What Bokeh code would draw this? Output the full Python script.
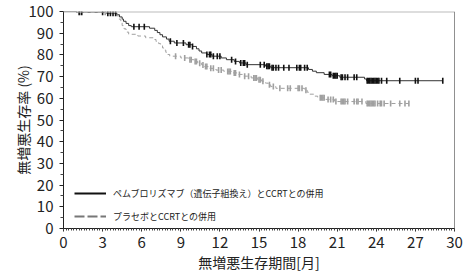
import numpy as np
from bokeh.plotting import figure
from bokeh.models import FixedTicker, Legend, LegendItem, Span, Range1d
from bokeh.embed import file_html
from bokeh.resources import INLINE

# ---- data ----
pem_event_t = [0, 1.0, 3.3, 4.1, 4.3, 4.5, 4.6, 4.8, 5.0, 5.2, 6.6, 7.0, 7.2, 7.4, 7.6,
               7.9, 8.1, 8.5, 9.4, 9.9, 10.2, 10.4, 10.6, 11.0, 11.4, 12.1, 12.5, 13.1,
               13.5, 14.0, 15.5, 15.9, 18.8, 19.1, 19.4, 20.0, 20.6, 21.2, 23.1, 23.25]
pem_event_s = [100, 99.6, 99.2, 98.5, 97.5, 96.5, 95.5, 94.5, 93.5, 93.0, 92.3, 91.3, 90.3,
               89.3, 88.3, 87.3, 86.3, 85.5, 84.7, 83.9, 82.8, 81.8, 80.9, 80.2, 79.4, 78.6,
               77.8, 77.0, 76.3, 75.5, 74.8, 74.1, 73.3, 72.5, 71.8, 71.0, 70.4, 69.7, 68.9, 68.1]
pem_censor_t = [1.2, 1.4, 3.0, 3.4, 3.6, 3.8, 4.0, 5.4, 5.8, 6.2, 8.2, 8.7, 9.2, 9.6, 9.7,
                9.9, 11.0, 11.2, 11.3, 11.5, 11.8, 12.0, 12.9, 13.2, 13.6, 13.8, 13.9, 14.1,
                15.1, 15.4, 15.6, 15.7, 15.8, 16.0, 16.1, 16.3, 16.5, 16.9, 17.3, 17.9, 18.1,
                18.2, 18.5, 18.7, 20.4, 20.5, 20.7, 20.8, 20.9, 21.0, 21.3, 21.4, 21.6, 21.8,
                22.3, 22.5, 23.3, 23.4, 23.5, 23.6, 23.7, 23.8, 23.9, 24.0, 24.1, 24.2, 24.4,
                24.8, 25.8, 27.0, 27.2, 29.1]

pla_event_t = [0, 1.0, 3.4, 4.1, 4.25, 4.4, 4.5, 4.65, 4.8, 5.0, 5.7, 6.3, 6.9, 7.1, 7.3,
               7.45, 7.6, 7.7, 7.85, 8.0, 8.15, 9.0, 9.6, 10.0, 10.3, 10.6, 10.8, 11.2, 11.7,
               12.3, 13.0, 13.4, 13.8, 14.4, 14.9, 15.2, 15.5, 15.7, 15.9, 16.3, 18.5, 18.7,
               18.9, 19.2, 19.5, 20.1, 20.8, 23.2]
pla_event_s = [100, 99.6, 99.0, 98.0, 96.5, 95.0, 93.5, 92.0, 90.5, 89.5, 88.7, 87.9, 87.1,
               86.2, 85.2, 84.2, 83.2, 82.2, 81.2, 80.2, 79.4, 78.6, 77.8, 77.0, 76.2, 75.4,
               74.6, 73.8, 73.0, 72.4, 71.7, 71.0, 70.2, 69.4, 68.6, 67.9, 67.0, 66.2, 65.4,
               64.6, 63.7, 62.8, 61.9, 61.0, 60.2, 59.5, 58.5, 57.6]
pla_censor_t = [1.3, 3.2, 8.6, 9.3, 9.7, 9.8, 10.1, 10.2, 10.45, 10.7, 10.9, 11.0, 11.3,
                11.5, 11.9, 12.1, 12.6, 12.7, 12.8, 13.1, 13.2, 13.5, 13.9, 14.2, 14.6, 14.7,
                14.8, 15.0, 15.1, 15.3, 15.8, 16.1, 16.6, 17.2, 17.4, 18.0, 18.1, 18.3, 18.6,
                19.7, 19.8, 19.9, 20.0, 20.3, 20.5, 20.7, 20.9, 21.3, 21.4, 21.5, 21.6, 21.8,
                22.3, 22.5, 22.6, 22.9, 23.3, 23.4, 23.5, 23.6, 23.7, 23.8, 23.9, 24.1, 24.3,
                24.4, 24.6, 25.1, 25.8, 26.2, 26.5]

x_ticks = list(range(0, 31, 3))
y_ticks = list(range(0, 101, 10))
label_pem = "ペムブロリズマブ（遺伝子組換え）とCCRTとの併用"
label_pla = "プラセボとCCRTとの併用"
x_title = "無増悪生存期間[月]"
y_title = "無増悪生存率 (%)"

FONT = "Noto Sans CJK JP"


def censor_y(ev_t, ev_s, ct):
    idx = np.searchsorted(np.array(ev_t), np.array(ct), side="right") - 1
    return [ev_s[i] for i in idx]


p = figure(width=470, height=274, output_backend="svg", toolbar_location=None,
           x_range=Range1d(0, 30), y_range=Range1d(0, 100),
           min_border_left=63, min_border_right=16, min_border_top=11, min_border_bottom=46)
p.outline_line_color = None
p.xgrid.visible = False
p.ygrid.visible = False
p.background_fill_color = "white"
p.border_fill_color = "white"

# curves
pem_end = pem_censor_t[-1]
pla_end = pla_censor_t[-1]
p.step(x=pem_event_t + [pem_end], y=pem_event_s + [pem_event_s[-1]], mode="after",
       line_color="#333333", line_width=1)
p.step(x=pla_event_t + [pla_end], y=pla_event_s + [pla_event_s[-1]], mode="after",
       line_color="#a0a0a0", line_width=1, line_dash="4 3")
p.scatter(x=pla_censor_t, y=censor_y(pla_event_t, pla_event_s, pla_censor_t), marker="dash",
          angle=np.pi / 2, size=6, line_color="#a0a0a0", line_width=1.6)
p.scatter(x=pem_censor_t, y=censor_y(pem_event_t, pem_event_s, pem_censor_t), marker="dash",
          angle=np.pi / 2, size=6, line_color="#111111", line_width=1.6)

# frame borders
p.add_layout(Span(location=100, dimension="width", line_color="#bbbbbb", line_width=2))
p.add_layout(Span(location=30, dimension="height", line_color="#222222", line_width=1))

# legend (legend-only renderers, nothing drawn in the plot)
nan = np.array([np.nan])
r1 = p.line(x=nan, y=nan, line_color="#111111", line_width=1.8)
r2 = p.line(x=nan, y=nan, line_color="#777777", line_width=2, line_dash="10 3")
legend = Legend(items=[LegendItem(label=label_pem, renderers=[r1]),
                       LegendItem(label=label_pla, renderers=[r2])],
                location=(11, 2), orientation="vertical",
                glyph_width=32, glyph_height=20, label_height=20, spacing=3,
                label_standoff=7, padding=0, margin=0,
                border_line_color=None, background_fill_alpha=0,
                label_text_font=FONT, label_text_font_size="9px", label_text_color="#222222")
p.add_layout(legend, "center")

# axes
xa = p.xaxis[0]
xa.ticker = FixedTicker(ticks=x_ticks, minor_ticks=list(np.round(np.arange(0, 30.001, 0.2), 2)))
xa.axis_label = x_title
ya = p.yaxis[0]
ya.ticker = FixedTicker(ticks=y_ticks, minor_ticks=list(range(5, 100, 10)))
ya.axis_label = y_title
for ax in (xa, ya):
    ax.axis_line_color = "#222222"
    ax.major_tick_line_color = "#222222"
    ax.minor_tick_line_color = "#444444"
    ax.major_tick_in = 0
    ax.minor_tick_in = 0
    ax.major_label_text_font = FONT
    ax.major_label_text_font_size = "15px"
    ax.major_label_text_color = "#222222"
    ax.axis_label_text_font = FONT
    ax.axis_label_text_font_size = "14px"
    ax.axis_label_text_font_style = "normal"
    ax.axis_label_text_color = "#222222"
xa.major_tick_out = 3
xa.minor_tick_out = 2
xa.major_label_standoff = 5
xa.axis_label_standoff = 1
ya.major_tick_out = 4
ya.minor_tick_out = 3
ya.major_label_standoff = 6
ya.axis_label_standoff = -7

open("out.html", "w").write(file_html(p, INLINE))
